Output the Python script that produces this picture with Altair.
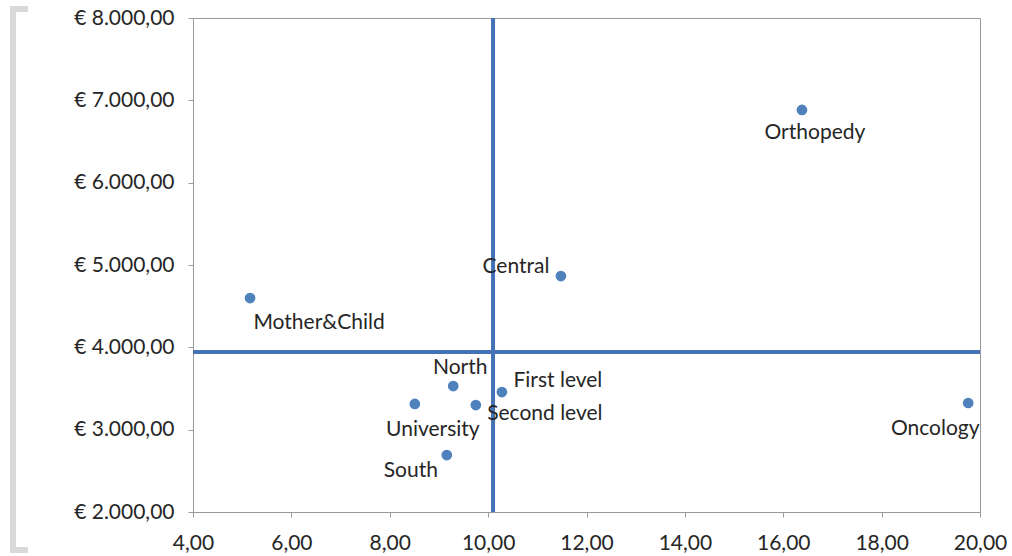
import altair as alt
import pandas as pd

# Units: average length of stay (x) vs. average cost per case (y)
units = ["Orthopedy", "Central", "Mother&Child", "North", "First level",
         "Second level", "University", "South", "Oncology"]
length_of_stay = [16.38, 11.48, 5.16, 9.29, 10.28, 9.75, 8.51, 9.16, 19.76]
cost_per_case = [6883, 4866, 4599, 3530, 3457, 3299, 3312, 2692, 3324]

# Reference lines splitting the plane into quadrants
x_split = 10.10
y_split = 3943

# Label placement around each point (pixels)
label_offset = {
    "Orthopedy": (13, 23),
    "Central": (-45, -9),
    "Mother&Child": (69, 25),
    "North": (7, -18),
    "First level": (56, -11),
    "Second level": (69, 9),
    "University": (18, 26),
    "South": (-36, 16),
    "Oncology": (-33, 26),
}

df = pd.DataFrame({"unit": units, "stay": length_of_stay, "cost": cost_per_case})

FONT = "Lato"
POINT = "#4F81BD"
LINE = "#4472B4"
TEXT = "#262626"

x_scale = alt.Scale(domain=[4, 20], nice=False, zero=False)
y_scale = alt.Scale(domain=[2000, 8000], nice=False, zero=False)

x_enc = alt.X(
    "stay:Q", scale=x_scale, title=None,
    axis=alt.Axis(
        values=[4, 6, 8, 10, 12, 14, 16, 18, 20],
        labelExpr='replace(format(datum.value, ".2f"), ".", ",")',
        grid=False, domainColor="#9a9a9a", tickColor="#9a9a9a", tickSize=5,
        labelFontSize=21, labelFont=FONT, labelColor=TEXT,
        labelPadding=15, labelFlush=False,
    ),
)
y_enc = alt.Y(
    "cost:Q", scale=y_scale, title=None,
    axis=alt.Axis(
        values=[2000, 3000, 4000, 5000, 6000, 7000, 8000],
        labelExpr='"€ " + replace(replace(replace(format(datum.value, ",.2f"), ",", "X"), ".", ","), "X", ".")',
        grid=False, domainColor="#9a9a9a", tickColor="#9a9a9a", tickSize=5,
        labelFontSize=21, labelFont=FONT, labelColor=TEXT,
        labelPadding=14,
    ),
)

base = alt.Chart(df)

vline = alt.Chart(pd.DataFrame({"stay": [x_split]})).mark_rule(
    color=LINE, strokeWidth=4
).encode(x=alt.X("stay:Q", scale=x_scale))

hline = alt.Chart(pd.DataFrame({"cost": [y_split]})).mark_rule(
    color=LINE, strokeWidth=4
).encode(y=alt.Y("cost:Q", scale=y_scale))

points = base.mark_circle(size=115, color=POINT, opacity=1).encode(x=x_enc, y=y_enc)

labels = []
for name, (dx, dy) in label_offset.items():
    labels.append(
        base.transform_filter(alt.datum.unit == name)
        .mark_text(dx=dx, dy=dy, align="center", baseline="middle",
                   font=FONT, fontSize=21, color=TEXT)
        .encode(x=alt.X("stay:Q", scale=x_scale),
                y=alt.Y("cost:Q", scale=y_scale),
                text="unit:N")
    )

# Light gray bracket along the left edge of the panel
one = pd.DataFrame({"k": [0]})
bracket_style = dict(color="#d9d9d9", strokeWidth=6, strokeCap="square")
bracket = alt.Chart(one).mark_rule(**bracket_style).encode(
    x=alt.value(-180), y=alt.value(-9), y2=alt.value(532))
bracket_top = alt.Chart(one).mark_rule(**bracket_style).encode(
    x=alt.value(-180), x2=alt.value(-168), y=alt.value(-9))
bracket_bottom = alt.Chart(one).mark_rule(**bracket_style).encode(
    x=alt.value(-180), x2=alt.value(-168), y=alt.value(532))

chart = alt.layer(bracket, bracket_top, bracket_bottom, vline, hline, points, *labels).properties(
    width=787, height=494,
    autosize=alt.AutoSizeParams(type="none"),
    padding={"left": 193, "top": 18, "right": 32, "bottom": 44},
    background="white",
).configure_view(stroke="#9a9a9a", strokeWidth=1)

chart.save("out.html", embed_options={"renderer": "svg", "actions": False})
